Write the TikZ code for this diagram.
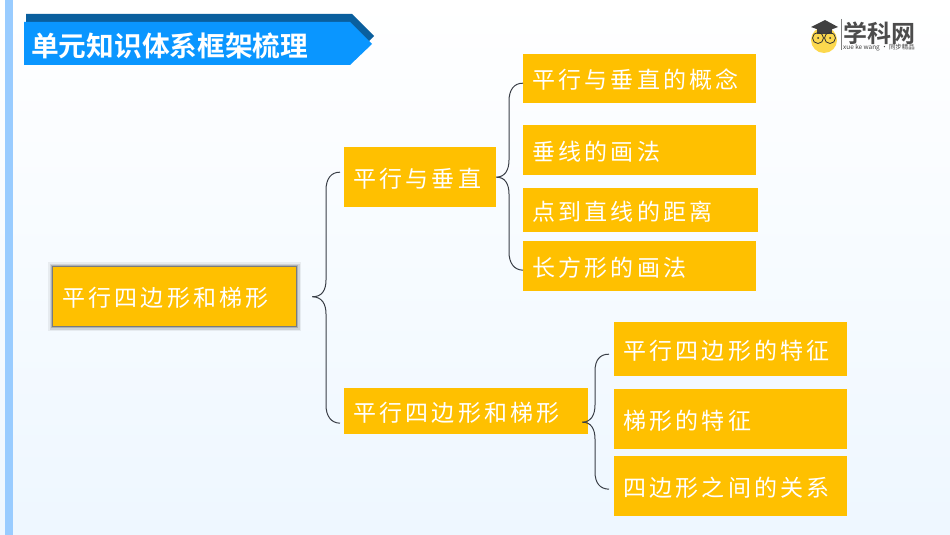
\documentclass[tikz,border=0pt]{standalone}
\usepackage{fontspec}
\newfontfamily\cjk[LetterSpace=14]{Noto Sans CJK SC}
\newfontfamily\cjktitle{Noto Sans CJK SC Bold}
\newfontfamily\cjkplain{Noto Sans CJK SC}
\definecolor{boxgold}{HTML}{FFC000}
\definecolor{bannerblue}{HTML}{0A96FF}
\definecolor{bannerdark}{HTML}{0A5F9E}
\definecolor{stripeblue}{HTML}{99CCFF}
\definecolor{paleblue}{HTML}{EEF7FF}
\definecolor{linkgrey}{HTML}{3A3F47}
\definecolor{facegold}{HTML}{FCD84E}
\tikzset{
  box/.style={anchor=north west,fill=boxgold,text=white,inner xsep=9pt,inner ysep=0pt,align=left,text height=25pt,text depth=5pt,font=\cjk\fontsize{23}{25}\selectfont},
  mainbox/.style={box,preaction={draw=black,opacity=.06,line width=10pt},preaction={draw=black,opacity=.10,line width=7pt},preaction={draw=black,opacity=.16,line width=4.5pt},preaction={draw=black,opacity=.30,line width=2pt}},
  link/.style={draw=linkgrey,line width=1pt}
}
\begin{document}
\begin{tikzpicture}[x=1pt,y=-1pt]
   \useasboundingbox (0,0) rectangle (950,535);
   % page
   \shade[top color=white,bottom color=paleblue] (0,0) rectangle (950,535);
   \fill[stripeblue] (5,0) rectangle (13,535);
   % banner
   \fill[bannerdark] (26,14) -- (352,14) -- (374,36) -- (352,58) -- (26,58) -- cycle;
   \fill[bannerblue] (24,22) -- (350,22) -- (372,44) -- (350,65) -- (24,65) -- cycle;
   \node[anchor=west,inner sep=0pt,text=white,font=\cjktitle\fontsize{27.7}{30}\selectfont] (title) at (31,46) {单元知识体系框架梳理};
   % logo
   \fill[facegold] (824,40) circle (13);
   \fill[black!75] (811,27) -- (825,20) -- (838,27) -- (825,32) -- cycle;
   \fill[black!75] (817,29) rectangle (832,34);
   \draw[black!80,line width=.8pt] (818,38) circle (5.5) (830,38) circle (5.5);
   \fill[black!80] (818,38) circle (1) (830,38) circle (1);
   \draw[black!50,line width=.6pt] (841,19) -- (841,50);
   \node[anchor=west,inner sep=0pt,text=black!70,font=\cjktitle\fontsize{24}{26}\selectfont] (logoname) at (843,33) {学科网};
   \node[anchor=west,inner sep=0pt,text=black!75,font=\cjkplain\fontsize{6.4}{7}\selectfont] (logosub) at (843,48) {xue ke wang · 同步精品};
   % boxes
   \node[mainbox,text width=225pt,minimum height=59pt] (root) at (53,267) {平行四边形和梯形};
   \node[box,text width=134pt,minimum height=60pt] (para) at (344,147) {平行与垂直};
   \node[box,text width=226pt,minimum height=46pt] (quad) at (344,388) {平行四边形和梯形};
   \node[box,text width=215pt,minimum height=49pt] (concept) at (523,54) {平行与垂直的概念};
   \node[box,text width=215pt,minimum height=50pt] (perp) at (523,125) {垂线的画法};
   \node[box,text width=217pt,minimum height=44pt] (dist) at (523,188) {点到直线的距离};
   \node[box,text width=215pt,minimum height=50pt] (rect) at (523,241) {长方形的画法};
   \node[box,text width=215pt,minimum height=54pt] (pfeat) at (614,322) {平行四边形的特征};
   \node[box,text width=215pt,minimum height=60pt] (tfeat) at (614,389) {梯形的特征};
   \node[box,text width=215pt,minimum height=60pt] (rel) at (614,456) {四边形之间的关系};
   % braces
   \coordinate (tipa) at ([xshift=16pt]root.east);
   \coordinate (tipb) at (para.east);
   \coordinate (tipc) at ([xshift=-6pt,yshift=-11pt]quad.east);
   \draw[link] (tipa) .. controls (322,297) and (326,290) .. (326,280) -- (326,190) .. controls (326,179) and (331,172) .. ([xshift=-4pt,yshift=5pt]para.west);
   \draw[link] (tipa) .. controls (322,297) and (326,304) .. (326,314) -- (326,405) .. controls (326,416) and (331,423) .. ([xshift=-4pt,yshift=-12pt]quad.west);
   \draw[link] (tipb) .. controls (505,177) and (509,170) .. (509,160) -- (509,101) .. controls (509,90) and (514,83) .. ([yshift=-4.5pt]concept.west);
   \draw[link] (tipb) .. controls (505,177) and (509,184) .. (509,194) -- (509,252) .. controls (509,263) and (514,270) .. ([yshift=-4pt]rect.west);
   \draw[link] (tipc) .. controls (591,422) and (595,415) .. (595,405) -- (595,371) .. controls (595,360) and (600,354) .. ([xshift=-5pt,yshift=-5pt]pfeat.west);
   \draw[link] (tipc) .. controls (591,422) and (595,429) .. (595,439) -- (595,472) .. controls (595,483) and (600,489) .. ([xshift=-5pt,yshift=-3pt]rel.west);
\end{tikzpicture}
\end{document}
